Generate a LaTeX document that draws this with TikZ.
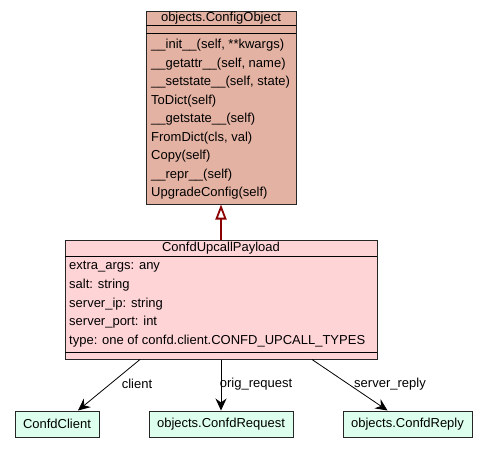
\documentclass[tikz,border=0pt]{standalone}
\usepackage{fontspec}
\setmainfont{Liberation Sans}
\usepackage{tikz}
\usetikzlibrary{positioning,calc,arrows.meta}

\definecolor{cfgfill}{HTML}{E4B2A3}
\definecolor{payfill}{HTML}{FFD4D7}
\definecolor{leaffill}{HTML}{DDFFEE}
\definecolor{inhred}{HTML}{8B0000}

\begin{document}
\begin{tikzpicture}[x=1pt,y=-1pt,font=\fontsize{13}{15}\selectfont]
            \tikzstyle{umlbox}=[draw=black!85, line width=1pt, inner sep=0pt]
            \tikzstyle{member}=[anchor=west, inner sep=0pt]
            \tikzstyle{leaf}=[umlbox, fill=leaffill, minimum height=26pt]
            \tikzstyle{assoc}=[-{Stealth[length=12pt, width=11pt, inset=4pt]}, line width=0.8pt]
            \tikzstyle{edgelabel}=[inner sep=0pt]

            \useasboundingbox (0,0) rectangle (488,448);

            % base class
            \node[umlbox, fill=cfgfill, minimum width=150pt, minimum height=193pt] (cfg) at (221,107.5) {};
            \node (cfgtitle) at (221,18) {objects.ConfigObject};
            \draw[line width=1pt] (146,25.5) -- (296,25.5);
            \draw[line width=1pt] (146,33) -- (296,33);
            \foreach \m [count=\i] in {{\_\_init\_\_(self, **kwargs)}, {\_\_getattr\_\_(self, name)},
                {\_\_setstate\_\_(self, state)}, {ToDict(self)}, {\_\_getstate\_\_(self)},
                {FromDict(cls, val)}, {Copy(self)}, {\_\_repr\_\_(self)}, {UpgradeConfig(self)}}
              \node[member] (cfgm\i) at (151, 45.5+18.5*\i-18.5) {\m};

            % payload class
            \node[umlbox, fill=payfill, minimum width=312pt, minimum height=119pt] (pay) at (221,299.5) {};
            \node (paytitle) at (221,248) {ConfdUpcallPayload};
            \draw[line width=1pt] (65,256) -- (377,256);
            \draw[line width=1pt] (65,352) -- (377,352);
            \foreach \a [count=\i] in {{extra\_args: any}, {salt: string}, {server\_ip: string},
                {server\_port: int}, {type: one of confd.client.CONFD\_UPCALL\_TYPES}}
              \node[member] (paya\i) at (69, 267+18.5*\i-18.5) {\a};

            \draw[-{Triangle[open, length=15pt, width=11pt, fill=white]}, draw=inhred, line width=1.8pt] (pay.north) -- (cfg.south);

            % referenced classes
            \node[leaf, minimum width=84pt] (client) at (57,424) {ConfdClient};
            \node[leaf, minimum width=144pt] (request) at (221,424) {objects.ConfdRequest};
            \node[leaf, minimum width=129pt] (reply) at (407.5,424) {objects.ConfdReply};

            \draw[assoc] ($(pay.south)+(-81,0)$) -- ($(client.north)+(21,0)$);
            \draw[assoc] (pay.south) -- (request.north);
            \draw[assoc] ($(pay.south)+(91,0)$) -- ($(reply.north)+(-20,0)$);

            \node[edgelabel] (lclient) at (137,384) {client};
            \node[edgelabel] (lreq) at (256,384) {orig\_request};
            \node[edgelabel] (lreply) at (390,384) {server\_reply};
        \end{tikzpicture}
\end{document}
